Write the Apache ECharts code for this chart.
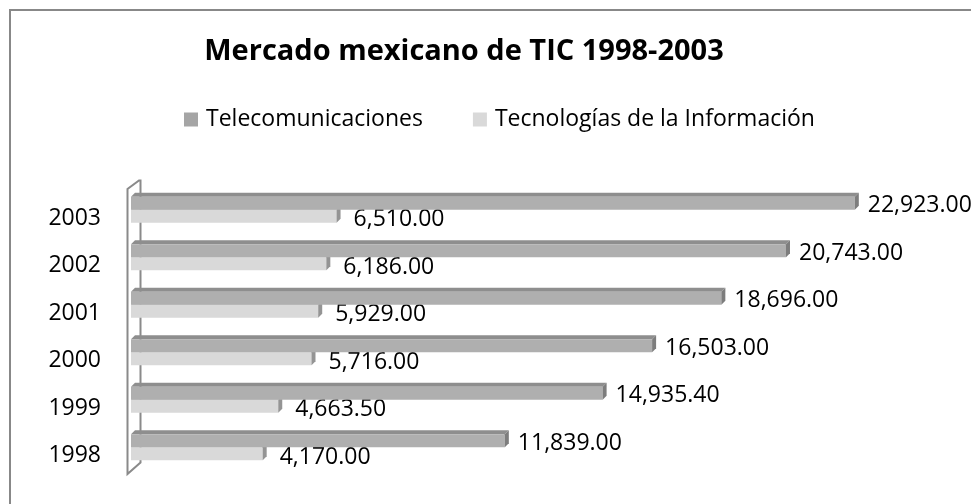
<!DOCTYPE html>
<html>
<head>
<meta charset="utf-8">
<script src="https://cdn.jsdelivr.net/npm/echarts@6/dist/echarts.min.js"></script>
<style>
html,body{margin:0;padding:0;background:#fff;}
#chart{width:971px;height:504px;}
</style>
</head>
<body>
<div id="chart"></div>
<script>
var titleText = 'Mercado mexicano de TIC 1998-2003';
var categories = ['1998', '1999', '2000', '2001', '2002', '2003'];
var seriesNames = ['Telecomunicaciones', 'Tecnologías de la Información'];
var telecom = [11839.00, 14935.40, 16503.00, 18696.00, 20743.00, 22923.00];
var tecInfo = [4170.00, 4663.50, 5716.00, 5929.00, 6186.00, 6510.00];

var FONT = '"Open Sans", "Noto Sans", sans-serif';
var BAR_H = 13, DEPTH = 4;
var TITLE_SIZE = 29, TITLE_CENTER_X = 464;

function fmt(v) {
  return v.toLocaleString('en-US', {minimumFractionDigits: 2, maximumFractionDigits: 2});
}

function textWidth(text, font) {
  var ctx = document.createElement('canvas').getContext('2d');
  ctx.font = font;
  return ctx.measureText(text).width;
}

function makeRender(upper, front, top, cap, labelDx, labelDy) {
  return function (params, api) {
    var v = api.value(0), c = api.value(1);
    var p0 = api.coord([0, c]);
    var p1 = api.coord([v, c]);
    var x0 = p0[0], x1 = p1[0];
    var y0 = upper ? p0[1] - BAR_H : p0[1];
    var d = DEPTH, h = BAR_H;
    return {
      type: 'group',
      children: [
        {type: 'polygon', shape: {points: [[x0, y0], [x0 + d, y0 - d], [x1 + d, y0 - d], [x1, y0]]}, style: {fill: top}},
        {type: 'rect', shape: {x: x0, y: y0, width: x1 - x0, height: h}, style: {fill: front}},
        {type: 'polygon', shape: {points: [[x1, y0], [x1 + d, y0 - d], [x1 + d, y0 + h - d], [x1, y0 + h]]}, style: {fill: cap}},
        {type: 'text', x: x1 + labelDx, y: y0 + h / 2 + labelDy,
          style: {text: fmt(v), font: '23px ' + FONT, fill: '#000', verticalAlign: 'middle', align: 'left'}}
      ]
    };
  };
}

function pairs(arr) {
  return arr.map(function (v, i) { return [v, i]; });
}

var tw = textWidth(titleText, 'bold ' + TITLE_SIZE + 'px ' + FONT);

var chart = echarts.init(document.getElementById('chart'), null, {renderer: 'canvas'});
chart.setOption({
  backgroundColor: '#fff',
  animation: false,
  title: {
    text: titleText,
    left: TITLE_CENTER_X - tw / 2,
    top: 37,
    padding: 0,
    textStyle: {fontFamily: FONT, fontWeight: 'bold', fontSize: TITLE_SIZE, color: '#000'}
  },
  legend: {
    data: seriesNames,
    left: 184,
    top: 108,
    padding: 0,
    itemWidth: 14,
    itemHeight: 14,
    itemGap: 50,
    icon: 'rect',
    textStyle: {fontFamily: FONT, fontSize: 23, color: '#000', padding: [0, 0, 0, 3]}
  },
  grid: {left: 131, right: 50.6, top: 186, bottom: 33, containLabel: false},
  xAxis: {type: 'value', min: 0, max: 25000, show: false},
  yAxis: {
    type: 'category',
    data: categories,
    axisLine: {show: false},
    axisTick: {show: false},
    splitLine: {show: false},
    axisLabel: {fontFamily: FONT, fontSize: 23, color: '#000', margin: 30, verticalAlign: 'top', lineHeight: 17}
  },
  graphic: [
    {type: 'rect', shape: {x: 10, y: 10, width: 1000, height: 600}, style: {fill: 'none', stroke: '#888', lineWidth: 2}, z: 0},
    {type: 'polygon', shape: {points: [[127.5, 474], [127.5, 189], [139, 180.5], [140.5, 180.5], [140.5, 462.5]]},
      style: {fill: 'none', stroke: '#8a8a8a', lineWidth: 2}, z: 0}
  ],
  series: [
    {
      name: seriesNames[1], type: 'custom', z: 3,
      itemStyle: {color: '#d9d9d9'},
      renderItem: makeRender(false, '#d9d9d9', '#bdbdbd', '#949494', 17, 3.5),
      encode: {x: 0, y: 1},
      data: pairs(tecInfo)
    },
    {
      name: seriesNames[0], type: 'custom', z: 4,
      itemStyle: {color: '#a5a5a5'},
      renderItem: makeRender(true, '#afafaf', '#8e8e8e', '#7d7d7d', 13, 2.5),
      encode: {x: 0, y: 1},
      data: pairs(telecom)
    }
  ]
});
</script>
</body>
</html>
